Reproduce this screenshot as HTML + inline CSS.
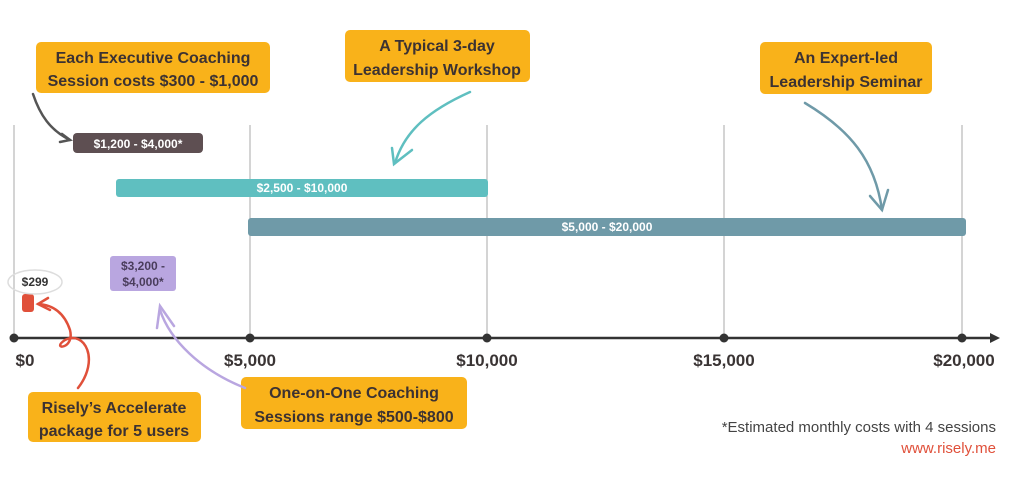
<!DOCTYPE html>
<html><head><style>
body{margin:0;background:#fff;}
svg text{font-family:"Liberation Sans","DejaVu Sans",sans-serif;}
</style></head><body>
<svg width="1024" height="487" viewBox="0 0 1024 487" xmlns="http://www.w3.org/2000/svg">
<g stroke="#aaa" stroke-width="1">
<line x1="14" y1="125" x2="14" y2="338"/>
<line x1="250" y1="125" x2="250" y2="338"/>
<line x1="487" y1="125" x2="487" y2="338"/>
<line x1="724" y1="125" x2="724" y2="338"/>
<line x1="962" y1="125" x2="962" y2="338"/>
</g>
<line x1="12" y1="338" x2="994" y2="338" stroke="#333" stroke-width="2.5"/>
<polygon points="1000,338 990,333 990,343" fill="#333"/>
<g fill="#333"><circle cx="14" cy="338" r="4.5"/><circle cx="250" cy="338" r="4.5"/><circle cx="487" cy="338" r="4.5"/><circle cx="724" cy="338" r="4.5"/><circle cx="962" cy="338" r="4.5"/></g>
<g font-size="17" font-weight="bold" fill="#3a3434" text-anchor="middle">
<text x="25" y="366">$0</text><text x="250" y="366">$5,000</text><text x="487" y="366">$10,000</text><text x="724" y="366">$15,000</text><text x="964" y="366">$20,000</text>
</g>
<rect x="73" y="133" width="130" height="20" rx="4" fill="#5e4f52"/>
<text x="138" y="148" font-size="12" font-weight="bold" fill="#fff" text-anchor="middle">$1,200 - $4,000*</text>
<rect x="116" y="179" width="372" height="18" rx="3" fill="#5fbfc0"/>
<text x="302" y="192" font-size="12" font-weight="bold" fill="#fff" text-anchor="middle">$2,500 - $10,000</text>
<rect x="248" y="218" width="718" height="18" rx="3" fill="#6f9aa8"/>
<text x="607" y="231" font-size="12" font-weight="bold" fill="#fff" text-anchor="middle">$5,000 - $20,000</text>
<rect x="110" y="256" width="66" height="35" rx="3" fill="#b9a6e0"/>
<text x="143" y="270" font-size="12" font-weight="bold" fill="#4a3d5c" text-anchor="middle">$3,200 -</text>
<text x="143" y="286" font-size="12" font-weight="bold" fill="#4a3d5c" text-anchor="middle">$4,000*</text>
<rect x="22" y="294" width="12" height="18" rx="3" fill="#e0503a"/>
<ellipse cx="35" cy="282" rx="27" ry="12" fill="none" stroke="#ddd" stroke-width="1.5"/>
<text x="35" y="286" font-size="12" font-weight="bold" fill="#333" text-anchor="middle">$299</text>
<g fill="#f9b21a">
<rect x="36" y="42" width="234" height="51" rx="5"/>
<rect x="345" y="30" width="185" height="52" rx="5"/>
<rect x="760" y="42" width="172" height="52" rx="5"/>
<rect x="28" y="392" width="173" height="50" rx="5"/>
<rect x="241" y="377" width="226" height="52" rx="5"/>
</g>
<g font-size="16" font-weight="bold" fill="#3c3232" text-anchor="middle">
<text x="153" y="63">Each Executive Coaching</text><text x="153" y="86">Session costs $300 - $1,000</text>
<text x="437" y="51">A Typical 3-day</text><text x="437" y="75">Leadership Workshop</text>
<text x="846" y="63">An Expert-led</text><text x="846" y="87">Leadership Seminar</text>
<text x="114" y="413">Risely’s Accelerate</text><text x="114" y="436">package for 5 users</text>
<text x="354" y="398">One-on-One Coaching</text><text x="354" y="422">Sessions range $500-$800</text>
</g>
<g fill="none" stroke-width="2.5" stroke-linecap="round">
<path d="M33,94 C40,115 50,130 70,140" stroke="#555"/>
<path d="M62,134 L70,140 L60,142" stroke="#555"/>
<path d="M470,92 C430,110 405,130 395,163" stroke="#5fbfc0"/>
<path d="M392,148 L394,164 L412,150" stroke="#5fbfc0"/>
<path d="M805,103 C850,130 875,160 882,210" stroke="#6f9aa8"/>
<path d="M870,196 L882,210 L888,190" stroke="#6f9aa8"/>
<path d="M78,388 C100,360 85,330 65,340 C50,350 75,350 70,330 C65,315 55,305 38,304" stroke="#e0503a"/>
<path d="M48,298 L38,304 L50,310" stroke="#e0503a"/>
<path d="M245,388 C200,370 170,340 160,310" stroke="#b9a6e0"/>
<path d="M157,328 L160,306 L174,326" stroke="#b9a6e0"/>
</g>
<text x="996" y="432" font-size="15" fill="#444" text-anchor="end">*Estimated monthly costs with 4 sessions</text>
<text x="996" y="453" font-size="15" fill="#e0503a" text-anchor="end">www.risely.me</text>
</svg>
</body></html>
